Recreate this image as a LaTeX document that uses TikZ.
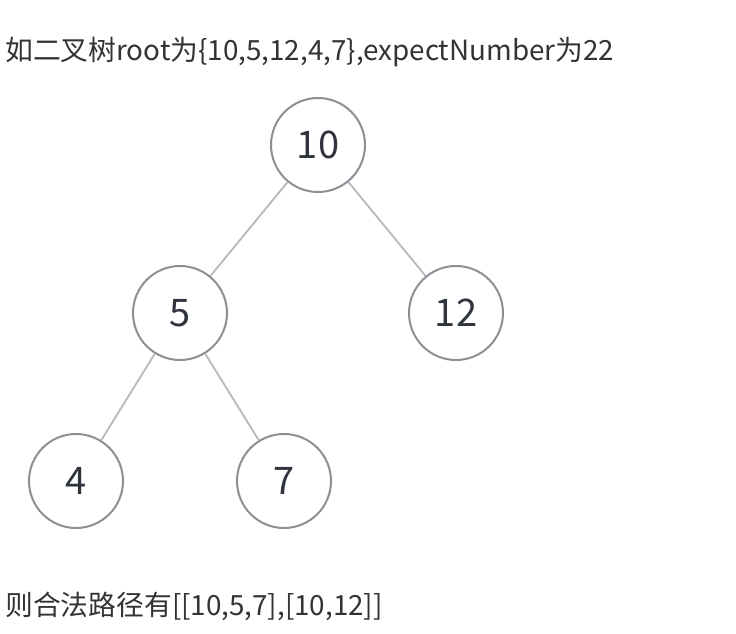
\documentclass[tikz,border=0pt]{standalone}
\usepackage{fontspec}
\setmainfont{Noto Sans CJK SC}
\usetikzlibrary{positioning}
\definecolor{ringgray}{HTML}{8C9096}
\definecolor{edgegray}{HTML}{B6B8BC}
\definecolor{numgray}{HTML}{2F343D}
\definecolor{textgray}{HTML}{333333}
\begin{document}
\begin{tikzpicture}[
		x=1pt, y=-1pt,
		level 1/.style={level distance=168pt, sibling distance=276pt},
		level 2/.style={level distance=168pt, sibling distance=208pt},
		edge from parent/.style={draw=none}
	]
	\tikzstyle{Node} = [ %the round look of every tree node
		circle,
		draw=ringgray,
		line width=2pt,
		fill=white,
		minimum size=94pt,
		inner sep=0pt,
		text=numgray,
		font=\fontsize{38}{40}\selectfont
	]
	\tikzstyle{Edge} = [
		draw=edgegray,
		line width=1.8pt
	]
	\tikzstyle{Caption} = [
		anchor=west,
		inner sep=0pt,
		text=textgray,
		font=\fontsize{27.8}{30}\selectfont
	]
	\useasboundingbox (0,0) rectangle (736,634);
	
	\node (n10) [Node] at (318,145) {10}
	child {
		node (n5) [Node] {5}
		child {
			node (n4) [Node] {4}
		}
		child {
			node (n7) [Node] {7}
		}
	}
	child {
		node (n12) [Node] {12}
	};
	\draw[Edge] (n10) -- (n5);
	\draw[Edge] (n10) -- (n12);
	\draw[Edge] (n5) -- (n4);
	\draw[Edge] (n5) -- (n7);
	
	\node (top) [Caption] at (5,52) {如二叉树root为\{10,5,12,4,7\},expectNumber为22};
	\node (bottom) [Caption] at (5,606) {则合法路径有[[10,5,7],[10,12]]};
\end{tikzpicture}
\end{document}
